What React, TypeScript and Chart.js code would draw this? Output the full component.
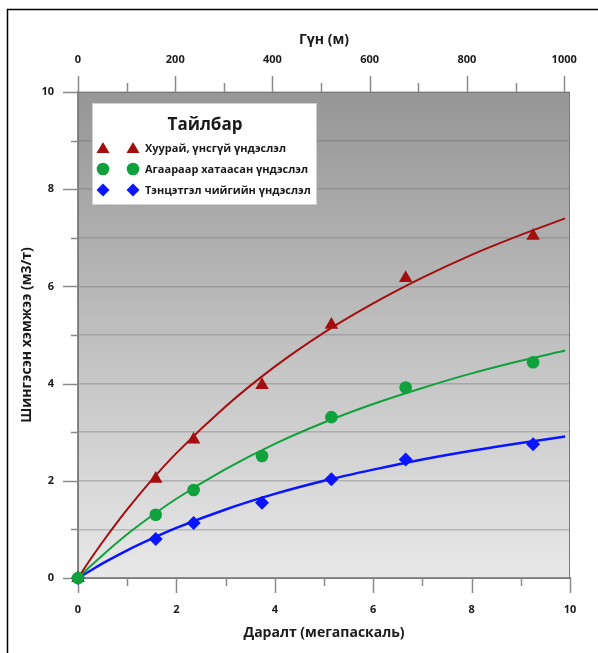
import React, { useEffect, useRef } from 'react';
import { Chart, registerables } from 'chart.js';

Chart.register(...registerables);

// Measured points (pressure, MPa)
const pressure = [0, 1.58, 2.35, 3.74, 5.15, 6.66, 9.25];
const dryAshFree = [0, 2.04, 2.85, 3.97, 5.21, 6.17, 7.04];
const airDried = [0, 1.3, 1.81, 2.51, 3.31, 3.92, 4.44];
const equilibrium = [0, 0.8, 1.13, 1.55, 2.03, 2.44, 2.75];

// Fitted curves
const curvePressure = [0, 0.25, 0.5, 1, 1.5, 2, 3, 4, 5, 6, 7, 8, 9, 9.9];
const dryAshFreeCurve = [0, 0.38, 0.74, 1.41, 2.02, 2.57, 3.53, 4.35, 5.05, 5.65, 6.18, 6.65, 7.06, 7.4];
const airDriedCurve = [0, 0.24, 0.47, 0.9, 1.28, 1.63, 2.24, 2.76, 3.2, 3.58, 3.91, 4.21, 4.47, 4.68];
const equilibriumCurve = [0, 0.15, 0.3, 0.57, 0.81, 1.03, 1.41, 1.73, 2.0, 2.23, 2.44, 2.62, 2.78, 2.91];

const xTicks = [0, 1, 2, 3, 4, 5, 6, 7, 8, 9, 10];
const yTicks = [0, 1, 2, 3, 4, 5, 6, 7, 8, 9, 10];
const depthTicks = [0, 100, 200, 300, 400, 500, 600, 700, 800, 900, 1000];

const legendTitle = 'Тайлбар';
const seriesNames = [
  'Хуурай, үнсгүй үндэслэл',
  'Агаараар хатаасан үндэслэл',
  'Тэнцэтгэл чийгийн үндэслэл',
];

const RED = '#a30f0f';
const GREEN = '#10a03c';
const BLUE = '#0a14ff';
const FONT = '"Open Sans", "Noto Sans", sans-serif';

function drawMarker(ctx: CanvasRenderingContext2D, kind: string, x: number, y: number, color: string) {
  ctx.save();
  ctx.fillStyle = color;
  ctx.beginPath();
  if (kind === 'triangle') {
    ctx.moveTo(x, y - 6);
    ctx.lineTo(x + 6.5, y + 5);
    ctx.lineTo(x - 6.5, y + 5);
    ctx.closePath();
  } else if (kind === 'circle') {
    ctx.arc(x, y, 6.3, 0, Math.PI * 2);
  } else {
    ctx.moveTo(x, y - 6.5);
    ctx.lineTo(x + 6.5, y);
    ctx.lineTo(x, y + 6.5);
    ctx.lineTo(x - 6.5, y);
    ctx.closePath();
  }
  ctx.fill();
  ctx.restore();
}

const bgPlugin = {
  id: 'bgPlugin',
  beforeDraw(chart: any) {
    const { ctx, chartArea: a } = chart;
    ctx.save();
    ctx.fillStyle = '#ffffff';
    ctx.fillRect(0, 0, chart.width, chart.height);
    const g = ctx.createLinearGradient(0, a.top, 0, a.bottom);
    g.addColorStop(0, '#969696');
    g.addColorStop(1, '#e8e8e8');
    ctx.fillStyle = g;
    ctx.fillRect(a.left, a.top, a.right - a.left, a.bottom - a.top);
    // outer frame
    ctx.strokeStyle = '#000';
    ctx.lineWidth = 1.5;
    ctx.beginPath();
    ctx.moveTo(7.5, chart.height);
    ctx.lineTo(7.5, 9.5);
    ctx.lineTo(chart.width, 9.5);
    ctx.stroke();
    ctx.restore();
  },
  beforeDatasetsDraw(chart: any) {
    const { ctx, chartArea: a } = chart;
    ctx.save();
    ctx.strokeStyle = '#7a7a7a';
    ctx.lineWidth = 1;
    ctx.strokeRect(a.left + 0.5, a.top + 0.5, a.right - a.left - 1, a.bottom - a.top);
    // tick marks
    const sx = chart.scales.x;
    const sy = chart.scales.y;
    const s2 = chart.scales.x2;
    ctx.strokeStyle = '#8a8a8a';
    ctx.lineWidth = 1.5;
    ctx.beginPath();
    xTicks.forEach((v) => {
      const p = Math.round(sx.getPixelForValue(v)) + 0.5;
      const len = v % 2 === 0 ? 15 : 8;
      ctx.moveTo(p, a.bottom);
      ctx.lineTo(p, a.bottom + len);
    });
    yTicks.forEach((v) => {
      const p = Math.round(sy.getPixelForValue(v)) + 0.5;
      const len = v % 2 === 0 ? 15 : 7;
      ctx.moveTo(a.left, p);
      ctx.lineTo(a.left - len, p);
    });
    depthTicks.forEach((v) => {
      const p = Math.round(s2.getPixelForValue(v)) + 0.5;
      const len = v % 200 === 0 ? 16 : 9;
      ctx.moveTo(p, a.top);
      ctx.lineTo(p, a.top - len);
    });
    ctx.stroke();
    ctx.restore();
  },
  afterDraw(chart: any) {
    const { ctx } = chart;
    ctx.save();
    const bx = 92, by = 103, bw = 225, bh = 102;
    ctx.fillStyle = '#ffffff';
    ctx.fillRect(bx, by, bw, bh);
    ctx.strokeStyle = '#d0d0d0';
    ctx.lineWidth = 1;
    ctx.strokeRect(bx + 0.5, by + 0.5, bw - 1, bh - 1);
    ctx.fillStyle = '#1a1a1a';
    ctx.font = `bold 17px ${FONT}`;
    ctx.textAlign = 'center';
    ctx.textBaseline = 'middle';
    ctx.fillText(legendTitle, 205, 125);
    const kinds = ['triangle', 'circle', 'diamond'];
    const colors = [RED, GREEN, BLUE];
    const rows = [148, 169, 190];
    ctx.font = `bold 11px ${FONT}`;
    ctx.textAlign = 'left';
    rows.forEach((ry, i) => {
      drawMarker(ctx, kinds[i], 103, ry, colors[i]);
      drawMarker(ctx, kinds[i], 133, ry, colors[i]);
      ctx.fillStyle = '#1a1a1a';
      ctx.fillText(seriesNames[i], 145, ry + 0.5);
    });
    ctx.restore();
  },
};

export default function App() {
  const ref = useRef<HTMLCanvasElement>(null);
  useEffect(() => {
    if (!ref.current) return;
    const tickFont = { family: FONT, size: 11, weight: 'bold' as const };
    const titleFont = { family: FONT, size: 14, weight: 'bold' as const };
    const pts = (ys: number[]) => pressure.map((x, i) => ({ x, y: ys[i] }));
    const crv = (ys: number[]) => curvePressure.map((x, i) => ({ x, y: ys[i] }));
    const chart = new Chart(ref.current, {
      type: 'scatter',
      data: {
        datasets: [
          { label: seriesNames[1], data: pts(airDried), pointStyle: 'circle', pointRadius: 6.3, backgroundColor: GREEN, borderColor: GREEN, borderWidth: 0, showLine: false, order: 1, clip: false } as any,
          { label: seriesNames[0], data: pts(dryAshFree), pointStyle: 'triangle', pointRadius: 7.8, backgroundColor: RED, borderColor: RED, borderWidth: 0, showLine: false, order: 2, clip: false } as any,
          { label: seriesNames[2], data: pts(equilibrium), pointStyle: 'rectRot', pointRadius: 7, backgroundColor: BLUE, borderColor: BLUE, borderWidth: 0, showLine: false, order: 3, clip: false } as any,
          { label: 'fit1', data: crv(dryAshFreeCurve), showLine: true, pointRadius: 0, borderColor: RED, borderWidth: 2, cubicInterpolationMode: 'monotone', order: 10, clip: false } as any,
          { label: 'fit2', data: crv(airDriedCurve), showLine: true, pointRadius: 0, borderColor: GREEN, borderWidth: 2, cubicInterpolationMode: 'monotone', order: 10, clip: false } as any,
          { label: 'fit3', data: crv(equilibriumCurve), showLine: true, pointRadius: 0, borderColor: BLUE, borderWidth: 2.5, cubicInterpolationMode: 'monotone', order: 10, clip: false } as any,
        ],
      },
      options: {
        responsive: false,
        animation: false,
        layout: { padding: { left: 0, right: 28, top: 0, bottom: 0 } },
        plugins: { legend: { display: false }, tooltip: { enabled: false } },
        scales: {
          x: {
            type: 'linear',
            position: 'bottom',
            min: 0,
            max: 10,
            afterBuildTicks: (s: any) => { s.ticks = xTicks.map((v) => ({ value: v })); },
            afterFit: (s: any) => { s.height = 75; s.paddingLeft = 0; s.paddingRight = 0; },
            ticks: {
              autoSkip: false,
              maxRotation: 0,
              padding: 25,
              color: '#1a1a1a',
              font: tickFont,
              callback: (v: any) => (v % 2 === 0 ? String(v) : ''),
            },
            grid: { drawOnChartArea: false, drawTicks: false },
            border: { display: true, color: '#8a8a8a', width: 1.5 },
            title: { display: true, text: 'Даралт (мегапаскаль)', color: '#1a1a1a', font: titleFont, padding: { top: 0, bottom: 12 } },
          },
          x2: {
            type: 'linear',
            position: 'top',
            min: 0,
            max: 1012,
            afterBuildTicks: (s: any) => { s.ticks = depthTicks.map((v) => ({ value: v })); },
            afterFit: (s: any) => { s.height = 92; s.paddingLeft = 0; s.paddingRight = 0; },
            ticks: {
              autoSkip: false,
              maxRotation: 0,
              padding: 26,
              color: '#1a1a1a',
              font: tickFont,
              callback: (v: any) => (v % 200 === 0 ? String(v) : ''),
            },
            grid: { drawOnChartArea: false, drawTicks: false },
            border: { display: false },
            title: { display: true, text: 'Гүн (м)', color: '#1a1a1a', font: titleFont, padding: { top: 32, bottom: 0 } },
          },
          y: {
            type: 'linear',
            position: 'left',
            min: 0,
            max: 10,
            afterBuildTicks: (s: any) => { s.ticks = yTicks.map((v) => ({ value: v })); },
            afterFit: (s: any) => { s.width = 78; s.paddingTop = 0; s.paddingBottom = 0; },
            ticks: {
              autoSkip: false,
              padding: 24,
              color: '#1a1a1a',
              font: tickFont,
              callback: (v: any) => (v % 2 === 0 ? String(v) : ''),
            },
            grid: { drawOnChartArea: true, drawTicks: false, color: 'rgba(105,105,105,0.35)', lineWidth: 1.5 },
            border: { display: true, color: '#8a8a8a', width: 1.5 },
            title: { display: true, text: 'Шингэсэн хэмжээ (м3/т)', color: '#1a1a1a', font: titleFont, padding: { top: 19, bottom: 0 } },
          },
        },
      },
      plugins: [bgPlugin],
    } as any);
    return () => chart.destroy();
  }, []);
  return (
    <div style={{ position: 'fixed', left: 0, top: 0, width: 598, height: 653, background: '#fff' }}>
      <canvas ref={ref} width={598} height={653} style={{ display: 'block' }} />
    </div>
  );
}
